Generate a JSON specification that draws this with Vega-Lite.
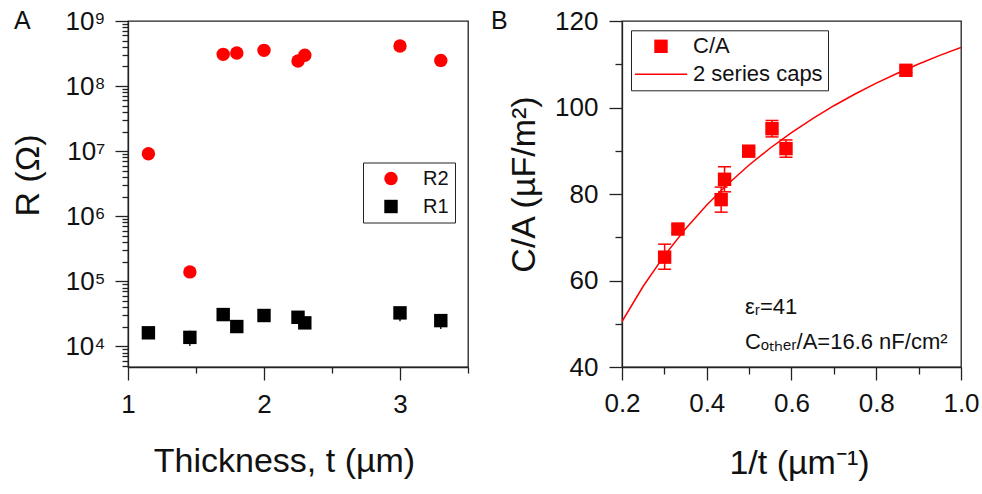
{
  "$schema": "https://vega.github.io/schema/vega-lite/v6.json",
  "autosize": {"type": "pad"},
  "padding": {"left": 10, "top": 7, "right": 5, "bottom": 5},
  "background": "white",
  "spacing": 154,
  "bounds": "flush",
  "resolve": {
    "scale": {"color": "independent", "shape": "independent"},
    "legend": {"color": "independent", "shape": "independent"}
  },
  "config": {
    "font": "Liberation Sans",
    "view": {"stroke": "#222", "strokeWidth": 1.3},
    "axis": {
      "grid": false,
      "domainColor": "#222",
      "domainWidth": 1.3,
      "tickColor": "#222",
      "tickWidth": 1.3,
      "labelFont": "Liberation Sans",
      "labelFontSize": 26,
      "labelColor": "#111",
      "titleFont": "Liberation Sans",
      "titleFontSize": 34,
      "titleFontWeight": "normal",
      "titleColor": "#111",
      "labelOverlap": false,
      "labelFlush": false,
      "labelBound": false
    },
    "title": {"font": "Liberation Sans", "fontSize": 25, "fontWeight": "normal", "color": "#111"}
  },
  "datasets": {
    "resistance": [
      {"t": 1.15, "series": "R2", "R": 9100000},
      {"t": 1.455, "series": "R2", "R": 139000},
      {"t": 1.70, "series": "R2", "R": 307000000},
      {"t": 1.80, "series": "R2", "R": 322000000},
      {"t": 2.00, "series": "R2", "R": 354000000},
      {"t": 2.25, "series": "R2", "R": 243000000},
      {"t": 2.30, "series": "R2", "R": 297000000},
      {"t": 3.00, "series": "R2", "R": 413000000},
      {"t": 3.30, "series": "R2", "R": 248000000},
      {"t": 1.15, "series": "R1", "R": 16100, "lo": 15300, "hi": 16900},
      {"t": 1.455, "series": "R1", "R": 13700, "lo": 10100, "hi": 17300},
      {"t": 1.70, "series": "R1", "R": 30700, "lo": 29200, "hi": 32200},
      {"t": 1.80, "series": "R1", "R": 20100, "lo": 19100, "hi": 21100},
      {"t": 2.00, "series": "R1", "R": 29700, "lo": 28200, "hi": 31200},
      {"t": 2.25, "series": "R1", "R": 27900, "lo": 26500, "hi": 29300},
      {"t": 2.30, "series": "R1", "R": 22900, "lo": 21800, "hi": 24000},
      {"t": 3.00, "series": "R1", "R": 32600, "lo": 24200, "hi": 41000},
      {"t": 3.30, "series": "R1", "R": 24800, "lo": 18500, "hi": 31100}
    ],
    "capacitance": [
      {"inv_t": 0.3006, "series": "C/A", "CA": 65.4, "lo": 62.6, "hi": 68.4},
      {"inv_t": 0.332, "series": "C/A", "CA": 71.9, "lo": 71.0, "hi": 72.8},
      {"inv_t": 0.434, "series": "C/A", "CA": 78.7, "lo": 75.8, "hi": 81.6},
      {"inv_t": 0.442, "series": "C/A", "CA": 83.4, "lo": 80.5, "hi": 86.3},
      {"inv_t": 0.499, "series": "C/A", "CA": 89.9, "lo": 89.2, "hi": 90.6},
      {"inv_t": 0.554, "series": "C/A", "CA": 95.1, "lo": 93.2, "hi": 97.0},
      {"inv_t": 0.587, "series": "C/A", "CA": 90.5, "lo": 88.5, "hi": 92.5},
      {"inv_t": 0.870, "series": "C/A", "CA": 108.6, "lo": 108.0, "hi": 109.2}
    ],
    "fit": [
      {"inv_t": 0.20, "CA": 50.51},
      {"inv_t": 0.25, "CA": 58.67},
      {"inv_t": 0.30, "CA": 65.76},
      {"inv_t": 0.35, "CA": 71.97},
      {"inv_t": 0.40, "CA": 77.45},
      {"inv_t": 0.45, "CA": 82.33},
      {"inv_t": 0.50, "CA": 86.70},
      {"inv_t": 0.55, "CA": 90.64},
      {"inv_t": 0.60, "CA": 94.20},
      {"inv_t": 0.65, "CA": 97.44},
      {"inv_t": 0.70, "CA": 100.41},
      {"inv_t": 0.75, "CA": 103.12},
      {"inv_t": 0.80, "CA": 105.62},
      {"inv_t": 0.85, "CA": 107.93},
      {"inv_t": 0.90, "CA": 110.07},
      {"inv_t": 0.95, "CA": 112.06},
      {"inv_t": 1.00, "CA": 113.91}
    ],
    "notes": [
      {"inv_t": 0.49, "CA": 52.3, "note": "εᵣ=41"},
      {"inv_t": 0.49, "CA": 44.2, "note": "Cₒₜₕₑᵣ/A=16.6 nF/cm²"}
    ]
  },
  "hconcat": [
    {
      "width": 340,
      "height": 346,
      "title": {"text": "A", "anchor": "start", "frame": "group", "orient": "top", "offset": -45.5, "dx": -114, "dy": 0, "baseline": "alphabetic"},
      "data": {"name": "resistance"},
      "encoding": {
        "x": {
          "field": "t", "type": "quantitative",
          "scale": {"domain": [1, 3.5], "nice": false, "zero": false},
          "axis": {
            "title": "Thickness, t (µm)",
            "values": [1, 1.5, 2, 2.5, 3, 3.5],
            "labelExpr": "datum.value % 1 == 0 ? format(datum.value, 'd') : ''",
            "tickSize": {"condition": {"test": "datum.value % 1 != 0", "value": 6}, "value": 13},
            "labelPadding": 11,
            "titleX": 156, "titleY": 104, "titleAlign": "center", "titleBaseline": "alphabetic"
          }
        }
      },
      "layer": [
        {
          "transform": [{"filter": "datum.series == 'R1'"}],
          "mark": {"type": "rule", "color": "#000", "strokeWidth": 1.3},
          "encoding": {
            "y": {
              "field": "lo", "type": "quantitative",
              "scale": {"type": "log", "domain": [4800, 1000000000], "nice": false},
              "axis": {"title": "R (Ω)"}
            },
            "y2": {"field": "hi"}
          }
        },
        {
          "mark": {"type": "point", "filled": true, "opacity": 1, "size": 180},
          "encoding": {
            "y": {
              "field": "R", "type": "quantitative",
              "scale": {"type": "log", "domain": [4800, 1000000000], "nice": false},
              "axis": {
                "title": "R (Ω)",
                "values": [5000, 6000, 7000, 8000, 9000,
                  10000, 20000, 30000, 40000, 50000, 60000, 70000, 80000, 90000,
                  100000, 200000, 300000, 400000, 500000, 600000, 700000, 800000, 900000,
                  1000000, 2000000, 3000000, 4000000, 5000000, 6000000, 7000000, 8000000, 9000000,
                  10000000, 20000000, 30000000, 40000000, 50000000, 60000000, 70000000, 80000000, 90000000,
                  100000000, 200000000, 300000000, 400000000, 500000000, 600000000, 700000000, 800000000, 900000000,
                  1000000000],
                "labelExpr": "abs(log(datum.value)/LN10 - round(log(datum.value)/LN10)) < 0.001 ? '10' + ['⁰','¹','²','³','⁴','⁵','⁶','⁷','⁸','⁹'][round(log(datum.value)/LN10)] : ''",
                "tickSize": {"condition": {"test": "abs(log(datum.value)/LN10 - round(log(datum.value)/LN10)) > 0.001", "value": 6}, "value": 13},
                "labelPadding": 10,
                "titleX": -90, "titleY": 154, "titleAngle": 270, "titleAlign": "center", "titleBaseline": "alphabetic"
              }
            },
            "shape": {
              "field": "series", "type": "nominal",
              "scale": {"domain": ["R2", "R1"], "range": ["circle", "square"]},
              "legend": {
                "title": null, "orient": "none", "legendX": 235, "legendY": 141.5,
                "strokeColor": "#222", "padding": 6, "symbolOffset": 12, "labelOffset": 22,
                "labelFontSize": 20, "labelFont": "Liberation Sans", "labelColor": "#111",
                "rowPadding": 8, "symbolSize": 180
              }
            },
            "color": {
              "field": "series", "type": "nominal",
              "scale": {"domain": ["R2", "R1"], "range": ["#ff0000", "#000000"]},
              "legend": {
                "title": null, "orient": "none", "legendX": 235, "legendY": 141.5,
                "strokeColor": "#222", "padding": 6, "symbolOffset": 12, "labelOffset": 22,
                "labelFontSize": 20, "labelFont": "Liberation Sans", "labelColor": "#111",
                "rowPadding": 8, "symbolSize": 180
              }
            }
          }
        }
      ]
    },
    {
      "width": 339,
      "height": 346,
      "title": {"text": "B", "anchor": "start", "frame": "group", "orient": "top", "offset": -45.5, "dx": -131, "dy": 0, "baseline": "alphabetic"},
      "encoding": {
        "x": {
          "field": "inv_t", "type": "quantitative",
          "scale": {"domain": [0.2, 1.0], "nice": false, "zero": false},
          "axis": {
            "title": "1/t (µm⁻¹)",
            "values": [0.2, 0.3, 0.4, 0.5, 0.6, 0.7, 0.8, 0.9, 1.0],
            "labelExpr": "round(datum.value*10) % 2 == 0 ? format(datum.value, '.1f') : ''",
            "tickSize": {"condition": {"test": "round(datum.value*10) % 2 == 1", "value": 7}, "value": 13},
            "labelPadding": 10,
            "titleX": 177, "titleY": 106, "titleAlign": "center", "titleBaseline": "alphabetic"
          }
        }
      },
      "layer": [
        {
          "data": {"name": "fit"},
          "mark": {"type": "line", "color": "#ff0000", "strokeWidth": 1.5, "clip": true},
          "encoding": {
            "y": {
              "field": "CA", "type": "quantitative",
              "scale": {"domain": [40, 120], "nice": false, "zero": false},
              "axis": {
                "title": "C/A (µF/m²)",
                "values": [40, 50, 60, 70, 80, 90, 100, 110, 120],
                "labelExpr": "datum.value % 20 == 0 ? datum.label : ''",
                "tickSize": {"condition": {"test": "datum.value % 20 != 0", "value": 7}, "value": 13},
                "labelPadding": 11,
                "titleX": -88, "titleY": 163, "titleAngle": 270, "titleAlign": "center", "titleBaseline": "alphabetic"
              }
            }
          }
        },
        {
          "data": {"name": "capacitance"},
          "mark": {"type": "rule", "color": "#ff0000", "strokeWidth": 1.5},
          "encoding": {
            "y": {"field": "lo", "type": "quantitative", "scale": {"domain": [40, 120], "nice": false, "zero": false}, "axis": {"title": "C/A (µF/m²)"}},
            "y2": {"field": "hi"}
          }
        },
        {
          "data": {"name": "capacitance"},
          "mark": {"type": "tick", "orient": "horizontal", "size": 13, "thickness": 1.5, "color": "#ff0000", "opacity": 1},
          "encoding": {
            "y": {"field": "lo", "type": "quantitative", "scale": {"domain": [40, 120], "nice": false, "zero": false}, "axis": {"title": "C/A (µF/m²)"}}
          }
        },
        {
          "data": {"name": "capacitance"},
          "mark": {"type": "tick", "orient": "horizontal", "size": 13, "thickness": 1.5, "color": "#ff0000", "opacity": 1},
          "encoding": {
            "y": {"field": "hi", "type": "quantitative", "scale": {"domain": [40, 120], "nice": false, "zero": false}, "axis": {"title": "C/A (µF/m²)"}}
          }
        },
        {
          "data": {"name": "capacitance"},
          "mark": {"type": "point", "filled": true, "opacity": 1, "size": 180, "color": "#ff0000"},
          "encoding": {
            "y": {"field": "CA", "type": "quantitative", "scale": {"domain": [40, 120], "nice": false, "zero": false}, "axis": {"title": "C/A (µF/m²)"}},
            "shape": {
              "field": "series", "type": "nominal",
              "scale": {"domain": ["C/A", "2 series caps"], "range": ["square", "M-3.9,-0.12L3.9,-0.12L3.9,0.12L-3.9,0.12Z"]},
              "legend": {
                "title": null, "orient": "none", "legendX": 9, "legendY": 9.3,
                "strokeColor": "#222", "padding": 5, "symbolOffset": 14, "labelOffset": 21,
                "labelFontSize": 22, "labelFont": "Liberation Sans", "labelColor": "#111",
                "rowPadding": 6, "symbolSize": 180,
                "symbolFillColor": "#ff0000",
                "encode": {"symbols": {"fill": {"value": "#ff0000"}, "opacity": {"value": 1}}}
              }
            }
          }
        },
        {
          "data": {"name": "notes"},
          "mark": {"type": "text", "align": "left", "baseline": "alphabetic", "fontSize": 22, "font": "Liberation Sans", "color": "#111"},
          "encoding": {
            "y": {"field": "CA", "type": "quantitative", "scale": {"domain": [40, 120], "nice": false, "zero": false}, "axis": {"title": "C/A (µF/m²)"}},
            "text": {"field": "note"}
          }
        }
      ]
    }
  ]
}
